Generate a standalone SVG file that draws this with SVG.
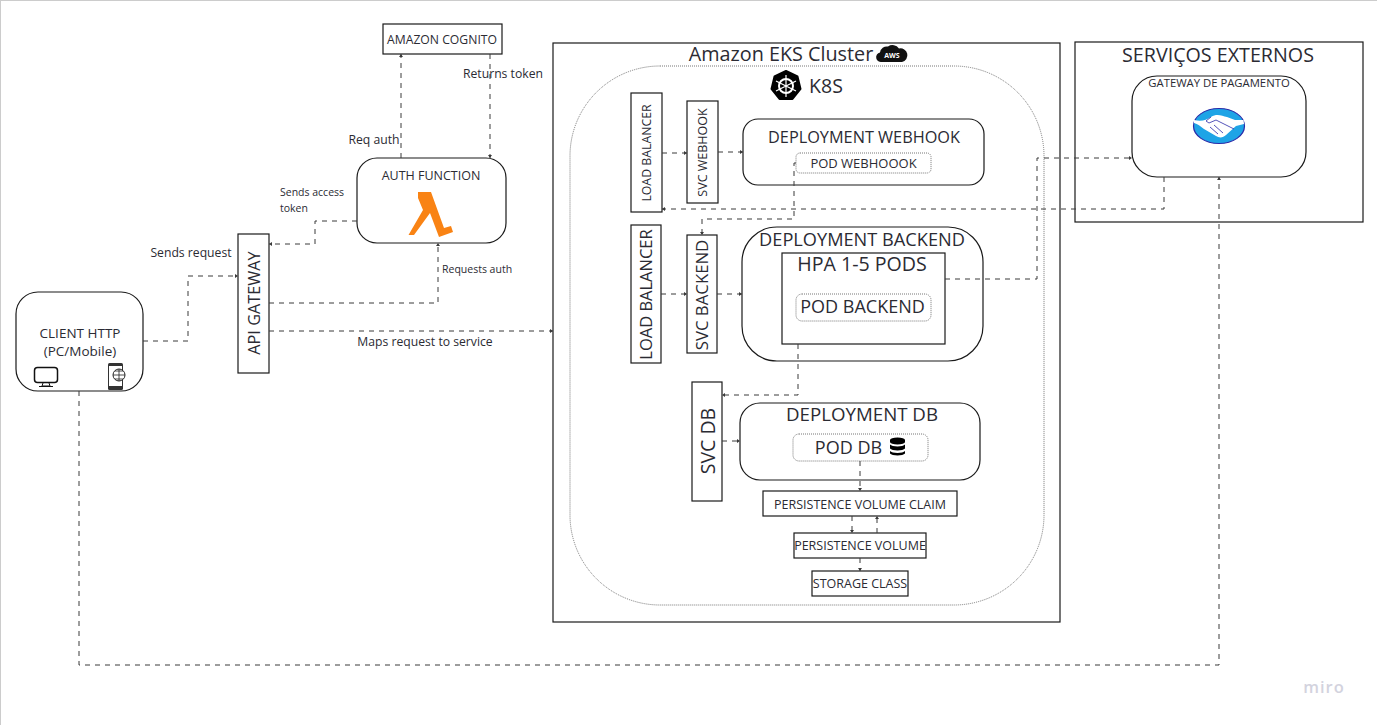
<svg xmlns="http://www.w3.org/2000/svg" width="1377" height="725" viewBox="0 0 1377 725">
<style>
text{font-family:"Open Sans","Noto Sans","DejaVu Sans",sans-serif;fill:#2b2b33;text-anchor:middle}
.l{text-anchor:start}
.b{fill:#fff;stroke:#1a1a1a;stroke-width:1.2}
.d{fill:#fff;stroke:#777;stroke-width:1;stroke-dasharray:1 1}
.c{fill:none;stroke:#3a3a3a;stroke-width:1;stroke-dasharray:5 5;marker-end:url(#a)}
</style>
<defs>
<marker id="a" markerUnits="userSpaceOnUse" markerWidth="5" markerHeight="5" refX="3" refY="2" orient="auto"><path d="M0 0L3 2L0 4Z" fill="#3a3a3a"/></marker>
</defs>
<rect width="1377" height="725" fill="#fff"/>
<rect x="0.5" y="0.5" width="1400" height="800" fill="none" stroke="#ccc"/>
<g id="eks"><rect class="b" x="553" y="43" width="507" height="579"/><text x="781" y="61" font-size="19.800">Amazon EKS Cluster</text>
<path d="M882 62a4.800 4.800 0 0 1-2-9.500a7 7 0 0 1 8-6a8 8 0 0 1 11 2a6.500 6.500 0 0 1 3 13.500Z" fill="#111"/><text x="892" y="57.500" font-size="7" font-weight="700" style="fill:#fff">AWS</text></g>
<g id="k8s"><rect class="d" x="570" y="66" width="474" height="539" rx="90"/>
<path d="M786 71l11.500 5.500l3 12.500l-8 10h-13l-8-10l3-12.500Z" fill="#000" stroke="#000" stroke-width="2" stroke-linejoin="round"/>
<circle cx="786" cy="86" r="7" fill="none" stroke="#fff" stroke-width="2"/><path d="M786 75V97M776 81L796 91M796 81L776 91" stroke="#fff" stroke-width="1.200"/>
<text x="826" y="93" font-size="19.500">K8S</text></g>
<g id="client"><rect class="b" x="16" y="292" width="127" height="99" rx="22"/><text font-size="13.500"><tspan x="80" y="338">CLIENT HTTP</tspan><tspan x="80" y="356">(PC/Mobile)</tspan></text>
<rect x="34.500" y="367.500" width="23" height="15" rx="3" fill="none" stroke="#111" stroke-width="1.500"/><path d="M43 383L42 386H50L49 383M39 386.500H53" fill="none" stroke="#111"/>
<rect x="108" y="363" width="15" height="27" rx="1.500" fill="#333"/><rect x="109" y="366" width="13" height="20" fill="#fff"/><circle cx="119" cy="375" r="6" fill="#fff" stroke="#222"/><path d="M113 375H125M119 369V381M115 371H123M115 379H123" stroke="#222" stroke-width=".8"/></g>
<g id="api"><rect class="b" x="238" y="234" width="31" height="139"/><text transform="translate(260,303) rotate(-90)" font-size="16.300">API GATEWAY</text></g>
<g id="auth"><rect class="b" x="357" y="158" width="149" height="85" rx="20"/><text x="431" y="180" font-size="12.500">AUTH FUNCTION</text>
<path d="M418 192H431L444 228L451 226L453 232L439 237L430 213L414 235H408.500L423 210L418 198Z" fill="#f98314"/></g>
<g id="cognito"><rect class="b" x="383" y="24" width="119" height="30"/><text x="442" y="44" font-size="12.200">AMAZON COGNITO</text></g>
<g id="lb1"><rect class="b" x="631" y="93" width="31" height="119"/><text transform="translate(651,153) rotate(-90)" font-size="12.300">LOAD BALANCER</text></g>
<g id="svcw"><rect class="b" x="687" y="101" width="31" height="102"/><text transform="translate(707,152.500) rotate(-90)" font-size="12.500">SVC WEBHOOK</text></g>
<g id="depw"><rect class="b" x="743" y="119" width="241" height="66" rx="15"/><text x="864" y="143" font-size="16.300">DEPLOYMENT WEBHOOK</text></g>
<g id="podw"><rect class="d" x="796" y="153" width="135" height="20" rx="4"/><text x="863.500" y="168" font-size="13">POD WEBHOOOK</text></g>
<g id="lb2"><rect class="b" x="631" y="225" width="30" height="138"/><text transform="translate(652,294.500) rotate(-90)" font-size="16.500">LOAD BALANCER</text></g>
<g id="svcb"><rect class="b" x="687" y="235" width="30" height="118"/><text transform="translate(708,295) rotate(-90)" font-size="16.800">SVC BACKEND</text></g>
<g id="depb"><rect class="b" x="742" y="227" width="241" height="134" rx="35"/><text x="862" y="245.500" font-size="18.200">DEPLOYMENT BACKEND</text></g>
<g id="hpa"><rect class="b" x="782" y="253" width="163" height="91"/><text x="862" y="271" font-size="19.600">HPA 1-5 PODS</text></g>
<g id="podb"><rect class="d" x="796" y="294" width="135" height="27" rx="6"/><text x="862.500" y="313" font-size="18">POD BACKEND</text></g>
<g id="svcd"><rect class="b" x="692" y="382" width="30" height="119"/><text transform="translate(715,441) rotate(-90)" font-size="19.500">SVC DB</text></g>
<g id="depd"><rect class="b" x="740" y="403" width="240" height="77" rx="20"/><text x="862" y="421" font-size="18.700">DEPLOYMENT DB</text></g>
<g id="podd"><rect class="d" x="793" y="434" width="135" height="27" rx="6"/><text x="848.500" y="454" font-size="18">POD DB</text>
<path d="M890 440a7.500 2.500 0 0 1 15 0v2a7.500 2.500 0 0 1-15 0ZM890 444.500c2 2.500 13 2.500 15 0v4c-2 2.500-13 2.500-15 0ZM890 451c2 2.500 13 2.500 15 0v2.500c-2 2.500-13 2.500-15 0Z" fill="#000"/></g>
<g id="pvc"><rect class="b" x="763" y="491" width="194" height="25"/><text x="860" y="509" font-size="12.500">PERSISTENCE VOLUME CLAIM</text></g>
<g id="pv"><rect class="b" x="794" y="533" width="132" height="25"/><text x="860" y="550" font-size="12.500">PERSISTENCE VOLUME</text></g>
<g id="sc"><rect class="b" x="812" y="571" width="96" height="25"/><text x="860" y="588" font-size="12.500">STORAGE CLASS</text></g>
<g id="ext"><rect class="b" x="1075" y="42" width="288" height="180"/><text x="1218" y="62" font-size="19.700">SERVIÇOS EXTERNOS</text></g>
<g id="gw"><rect class="b" x="1132" y="76" width="174" height="101" rx="25"/><text x="1219" y="87" font-size="11.300">GATEWAY DE PAGAMENTO</text>
<ellipse cx="1219" cy="126" rx="25.500" ry="17.500" fill="#1ea4e6" stroke="#2a2aa8" stroke-width="1.200"/>
<path d="M1194 120c8 2 12 0 17-3c6-4 11-1 16 0l8 3h8.500l.5 4l-8 2l-10 9c-3 3-7 3-10 1l-12-7c-4-3-6-5-10-6Z" fill="#fff"/>
<path d="M1211 117l-5 4l3 2l7-3l18 9M1210 127l8 7M1214 125l9 8" fill="none" stroke="#2a2aa8" stroke-width=".8"/></g>
<g id="connectors">
<path class="c" d="M143 341H188V276H238"/>
<path class="c" d="M357 221H315V244H269"/>
<path class="c" d="M269 303H438V243"/>
<path class="c" d="M269 331H553"/>
<path class="c" d="M401 158V54"/>
<path class="c" d="M490 54V158"/>
<path class="c" d="M662 153H687"/>
<path class="c" d="M718 152H743"/>
<path class="c" d="M796 163H794V219H702V235"/>
<path class="c" d="M1164 177V209H662"/>
<path class="c" d="M945 279H1037V158H1132"/>
<path class="c" d="M661 294H687"/>
<path class="c" d="M717 294H742"/>
<path class="c" d="M798 344V395H722"/>
<path class="c" d="M722 441H740"/>
<path class="c" d="M860 461V491"/>
<path class="c" d="M852 516V533"/>
<path class="c" d="M877 533V516"/>
<path class="c" d="M860 558V571"/>
<path class="c" d="M79 391V665H1219V177"/>
</g>
<g id="labels">
<text x="191" y="257" font-size="12.200">Sends request</text>
<text class="l" x="280" y="196" font-size="10.500">Sends access</text>
<text class="l" x="280" y="212" font-size="10.500">token</text>
<text class="l" x="442" y="273" font-size="10.500">Requests auth</text>
<text x="425" y="346" font-size="12.200">Maps request to service</text>
<text x="374" y="144" font-size="12.200">Req auth</text>
<text x="503" y="78" font-size="12.200">Returns token</text>
<text x="1324" y="693" font-size="16.500" font-weight="600" style="fill:#d3d3de;letter-spacing:1px">miro</text>
</g>
</svg>
